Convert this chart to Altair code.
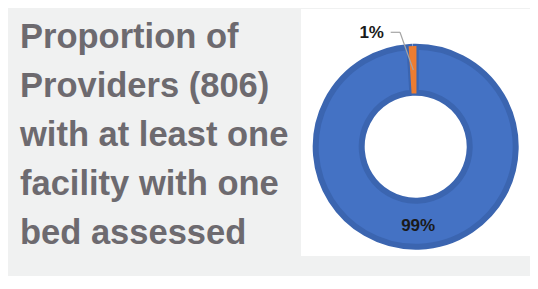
import altair as alt
import pandas as pd

categories = ["With one bed assessed", "Without"]
values = [99, 1]
labels = ["99%", "1%"]
order_idx = [0, 1]
title_lines = ["Proportion of", "Providers (806)", "with at least one",
               "facility with one", "bed assessed"]

fill_colors = ["#4472C4", "#ED7D31"]
stroke_colors = ["#3B65B0", "#ED7D31"]

df = pd.DataFrame({"category": categories, "value": values,
                   "label": labels, "order": order_idx})

CX, CY = 407.7, 138.7
one = alt.Data(values=[{"a": 1}])

panel = alt.Chart(one).mark_rect(color="white").encode(
    x=alt.value(293), x2=alt.value(525), y=alt.value(1), y2=alt.value(248))

title = alt.Chart(one).mark_text(
    align="left", baseline="alphabetic", font="Liberation Sans",
    fontWeight="bold", fontSize=34.5, lineHeight=49, color="#6D6A6F"
).encode(x=alt.value(12), y=alt.value(40), text=alt.value(title_lines))

base = alt.Chart(df).encode(
    theta=alt.Theta("value:Q", stack=True),
    order=alt.Order("order:Q"))

donut = base.mark_arc(outerRadius=100, innerRadius=54).encode(
    x=alt.value(CX), y=alt.value(CY),
    color=alt.Color("category:N", scale=alt.Scale(domain=categories, range=fill_colors), legend=None),
    stroke=alt.Stroke("category:N", scale=alt.Scale(domain=categories, range=stroke_colors), legend=None),
    strokeWidth=alt.condition(alt.datum.order == 0, alt.value(6), alt.value(1.5)),
)

big_label = base.transform_filter(alt.datum.order == 0).mark_text(
    radius=79, font="Liberation Sans", fontWeight="bold", fontSize=17, color="#1A1A1A"
).encode(x=alt.value(CX), y=alt.value(CY), text="label:N")

small_label = alt.Chart(df).transform_filter(alt.datum.order == 1).mark_text(
    font="Liberation Sans", fontWeight="bold", fontSize=17, color="#1A1A1A"
).encode(x=alt.value(363.7), y=alt.value(25), text="label:N")

lead1 = alt.Chart(one).mark_rule(color="#A5A5A5", strokeWidth=1.2).encode(
    x=alt.value(382.7), x2=alt.value(392), y=alt.value(24.3), y2=alt.value(24.3))
lead2 = alt.Chart(one).mark_rule(color="#A5A5A5", strokeWidth=1.2).encode(
    x=alt.value(392), x2=alt.value(405.3), y=alt.value(24.3), y2=alt.value(62))

chart = alt.layer(panel, donut, lead1, lead2, big_label, small_label, title).properties(
    width=522, height=268, autosize="none", padding=0, background="#F0F1F1"
).configure_view(strokeWidth=0)

chart.save("out.html", embed_options={"renderer": "svg", "actions": False})
